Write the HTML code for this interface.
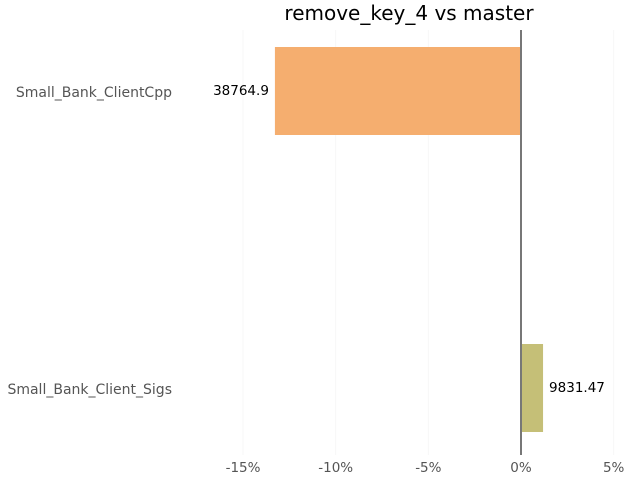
<!DOCTYPE html>
<html><head><meta charset="utf-8"><style>
html,body{margin:0;padding:0;background:#fff;}
svg{display:block;font-family:"DejaVu Sans","Liberation Sans",sans-serif;}
</style></head><body>
<svg id="chart" width="640" height="480" viewBox="0 0 640 480" xmlns="http://www.w3.org/2000/svg">
<text x="409" y="20" text-anchor="middle" font-size="20" fill="#000">remove_key_4 vs master</text>
<g id="grid"></g>
<g id="bars"></g>
<g id="xaxis"></g>
<g id="yaxis"></g>
</svg>
<script>
const categories = ["Small_Bank_ClientCpp", "Small_Bank_Client_Sigs"];
const pctValues = [-13.28, 1.19];
const valueLabels = ["38764.9", "9831.47"];
const barColors = ["#f5ae6f", "#c5bf77"];
const tickValues = [-15, -10, -5, 0, 5];
const tickLabels = ["-15%", "-10%", "-5%", "0%", "5%"];

const NS = "http://www.w3.org/2000/svg";
const x = v => 521 + v * 18.53;
const yCenter = i => 91 + i * 297;
const barH = 88;
const plotTop = 30, plotBottom = 455;
function mk(tag, attrs, parent) {
  const el = document.createElementNS(NS, tag);
  for (const k in attrs) el.setAttribute(k, attrs[k]);
  parent.appendChild(el);
  return el;
}
const grid = document.getElementById('grid');
const bars = document.getElementById('bars');
const xaxis = document.getElementById('xaxis');
const yaxis = document.getElementById('yaxis');

tickValues.forEach((t, i) => {
  const gl = mk('line', {x1: x(t), x2: x(t), y1: plotTop, y2: plotBottom, stroke: '#f7f7f7', 'stroke-width': 1}, grid);
  
  
  const tl = mk('text', {x: x(t), y: 472, 'text-anchor': 'middle', 'font-size': 13.5, fill: '#555'}, xaxis);
  tl.textContent = tickLabels[i];
  
  
});

categories.forEach((c, i) => {
  const v = pctValues[i];
  const x0 = Math.min(x(0), x(v)), w = Math.abs(x(v) - x(0));
  const r = mk('rect', {x: x0, y: yCenter(i) - barH / 2, width: w, height: barH, fill: barColors[i]}, bars);
  
  
  const lbl = mk('text', {x: v < 0 ? x(v) - 6 : x(v) + 6, y: yCenter(i) + 4, 'text-anchor': v < 0 ? 'end' : 'start', 'font-size': 13.5, fill: '#000'}, bars);
  lbl.textContent = valueLabels[i];
  
  
  const cl = mk('text', {x: 172, y: yCenter(i) + 6, 'text-anchor': 'end', 'font-size': 14, fill: '#555'}, yaxis);
  cl.textContent = c;
  
  
});

const zl = mk('line', {x1: x(0), x2: x(0), y1: plotTop, y2: plotBottom, stroke: '#777', 'stroke-width': 2}, bars);


</script>
</body></html>
